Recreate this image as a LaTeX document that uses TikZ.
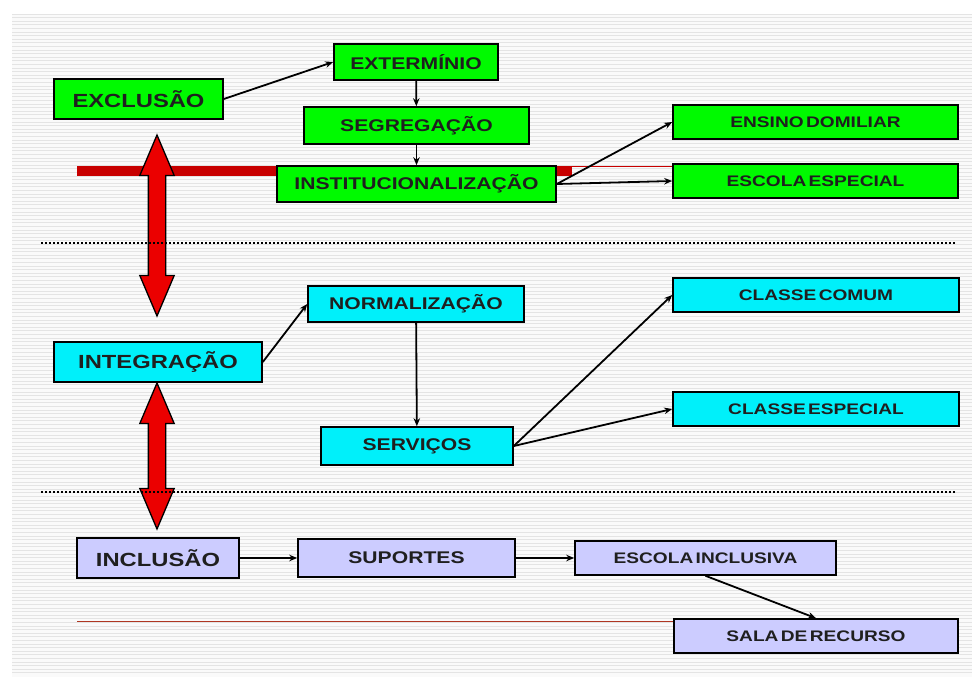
\documentclass[tikz,border=0pt]{standalone}
\usepackage{fontspec}
\setmainfont{Liberation Sans}
\newfontfamily\boxfont[FakeStretch=1.25,WordSpace=0.45]{Liberation Sans}
\usepackage{xcolor}
\usetikzlibrary{arrows.meta, shapes.arrows}

\definecolor{boxgreen}{RGB}{0,250,0}
\definecolor{boxcyan}{RGB}{0,240,250}
\definecolor{boxlav}{RGB}{204,204,255}
\definecolor{barred}{RGB}{200,0,0}
\definecolor{arrred}{RGB}{235,0,0}
\definecolor{linered}{RGB}{175,55,35}
\definecolor{stripe}{RGB}{228,228,228}

\tikzset{
  box/.style={draw=black, line width=1.6pt, inner sep=0pt, text=black!88},
  bigtxt/.style={font=\boxfont\bfseries\fontsize{19}{19}\selectfont},
  midtxt/.style={font=\boxfont\bfseries\fontsize{16.9}{17}\selectfont},
  smalltxt/.style={font=\boxfont\bfseries\fontsize{15.3}{15}\selectfont},
  greenbox/.style={box, fill=boxgreen},
  cyanbox/.style={box, fill=boxcyan},
  lavbox/.style={box, fill=boxlav},
  link/.style={-{Stealth[length=8pt,width=6.5pt]}, line width=1.8pt},
  updown/.style={double arrow, fill=arrred, draw=black, line width=1.3pt, rotate=90,
    double arrow head extend=8.5pt, double arrow tip angle=46, inner sep=8pt},
  sepline/.style={line width=2pt, dash pattern=on 2pt off 2pt}
}

\begin{document}
\begin{tikzpicture}[x=1pt, y=-1pt]
  \useasboundingbox (0,0) rectangle (972,677);
  \fill[white] (0,0) rectangle (972,677);
  % striped slide
  \fill[gray!4] (12,14) rectangle (972,677);
  \foreach \yy in {14,17.6,...,676}
    \draw[stripe, line width=0.9pt] (12,\yy) -- (972,\yy);

  % red bar and thin lines
  \draw[barred, line width=10pt] (77,171) -- (572,171);
  \draw[barred, line width=0.8pt] (572,166.5) -- (673,166.5);
  \draw[linered, line width=1pt] (77,621) -- (674,621);

  % big red arrows
  \node[updown, minimum height=181pt] (up1) at (157,225.5) {};
  \node[updown, minimum height=146pt] (up2) at (157,456) {};

  \draw[sepline] (41,243) -- (955,243);
  \draw[sepline] (41,492) -- (955,492);

  % exclusao
  \node[greenbox, bigtxt, minimum width=169pt, minimum height=40pt] (excl) at (138.5,99) {EXCLUSÃO};
  \node[greenbox, midtxt, minimum width=164pt, minimum height=36pt] (exterm) at (416,62) {EXTERMÍNIO};
  \node[greenbox, midtxt, minimum width=225pt, minimum height=37pt] (segreg) at (416.5,125.5) {SEGREGAÇÃO};
  \node[greenbox, midtxt, minimum width=279pt, minimum height=36pt] (instit) at (416.5,184) {INSTITUCIONALIZAÇÃO};
  \node[greenbox, smalltxt, minimum width=285pt, minimum height=34pt] (ensino) at (815.5,122) {ENSINO DOMILIAR};
  \node[greenbox, smalltxt, minimum width=285pt, minimum height=34pt] (escesp) at (815.5,181) {ESCOLA ESPECIAL};

  % integracao
  \node[cyanbox, bigtxt, minimum width=208pt, minimum height=40pt] (integ) at (158,362) {INTEGRAÇÃO};
  \node[cyanbox, midtxt, minimum width=216pt, minimum height=36pt] (normal) at (416,304) {NORMALIZAÇÃO};
  \node[cyanbox, midtxt, minimum width=192pt, minimum height=38pt] (servic) at (417,446) {SERVIÇOS};
  \node[cyanbox, smalltxt, minimum width=286pt, minimum height=34pt] (ccomum) at (816,295) {CLASSE COMUM};
  \node[cyanbox, smalltxt, minimum width=286pt, minimum height=34pt] (cesp) at (816,409) {CLASSE ESPECIAL};

  % inclusao
  \node[lavbox, bigtxt, minimum width=162pt, minimum height=40pt] (incl) at (158,558) {INCLUSÃO};
  \node[lavbox, midtxt, minimum width=217pt, minimum height=38pt] (suport) at (406.5,558) {SUPORTES};
  \node[lavbox, smalltxt, minimum width=261pt, minimum height=34pt] (escinc) at (705.5,558) {ESCOLA INCLUSIVA};
  \node[lavbox, smalltxt, minimum width=284pt, minimum height=34pt] (sala) at (816,636) {SALA DE RECURSO};

  \draw[link] (excl.east) -- (exterm.west);
  \draw[link] (exterm) -- (segreg);
  \draw[link] (segreg) -- (instit);
  \draw[link] (instit.east) -- (ensino.west);
  \draw[link] (instit.east) -- (escesp.west);

  \draw[link] (integ.east) -- (normal.west);
  \draw[link] (normal) -- (servic);
  \draw[link] (servic.east) -- (ccomum.west);
  \draw[link] (servic.east) -- (cesp.west);

  \draw[link] (incl) -- (suport);
  \draw[link] (suport) -- (escinc);
  \draw[link] (escinc.south) -- (sala.north);
\end{tikzpicture}
\end{document}
